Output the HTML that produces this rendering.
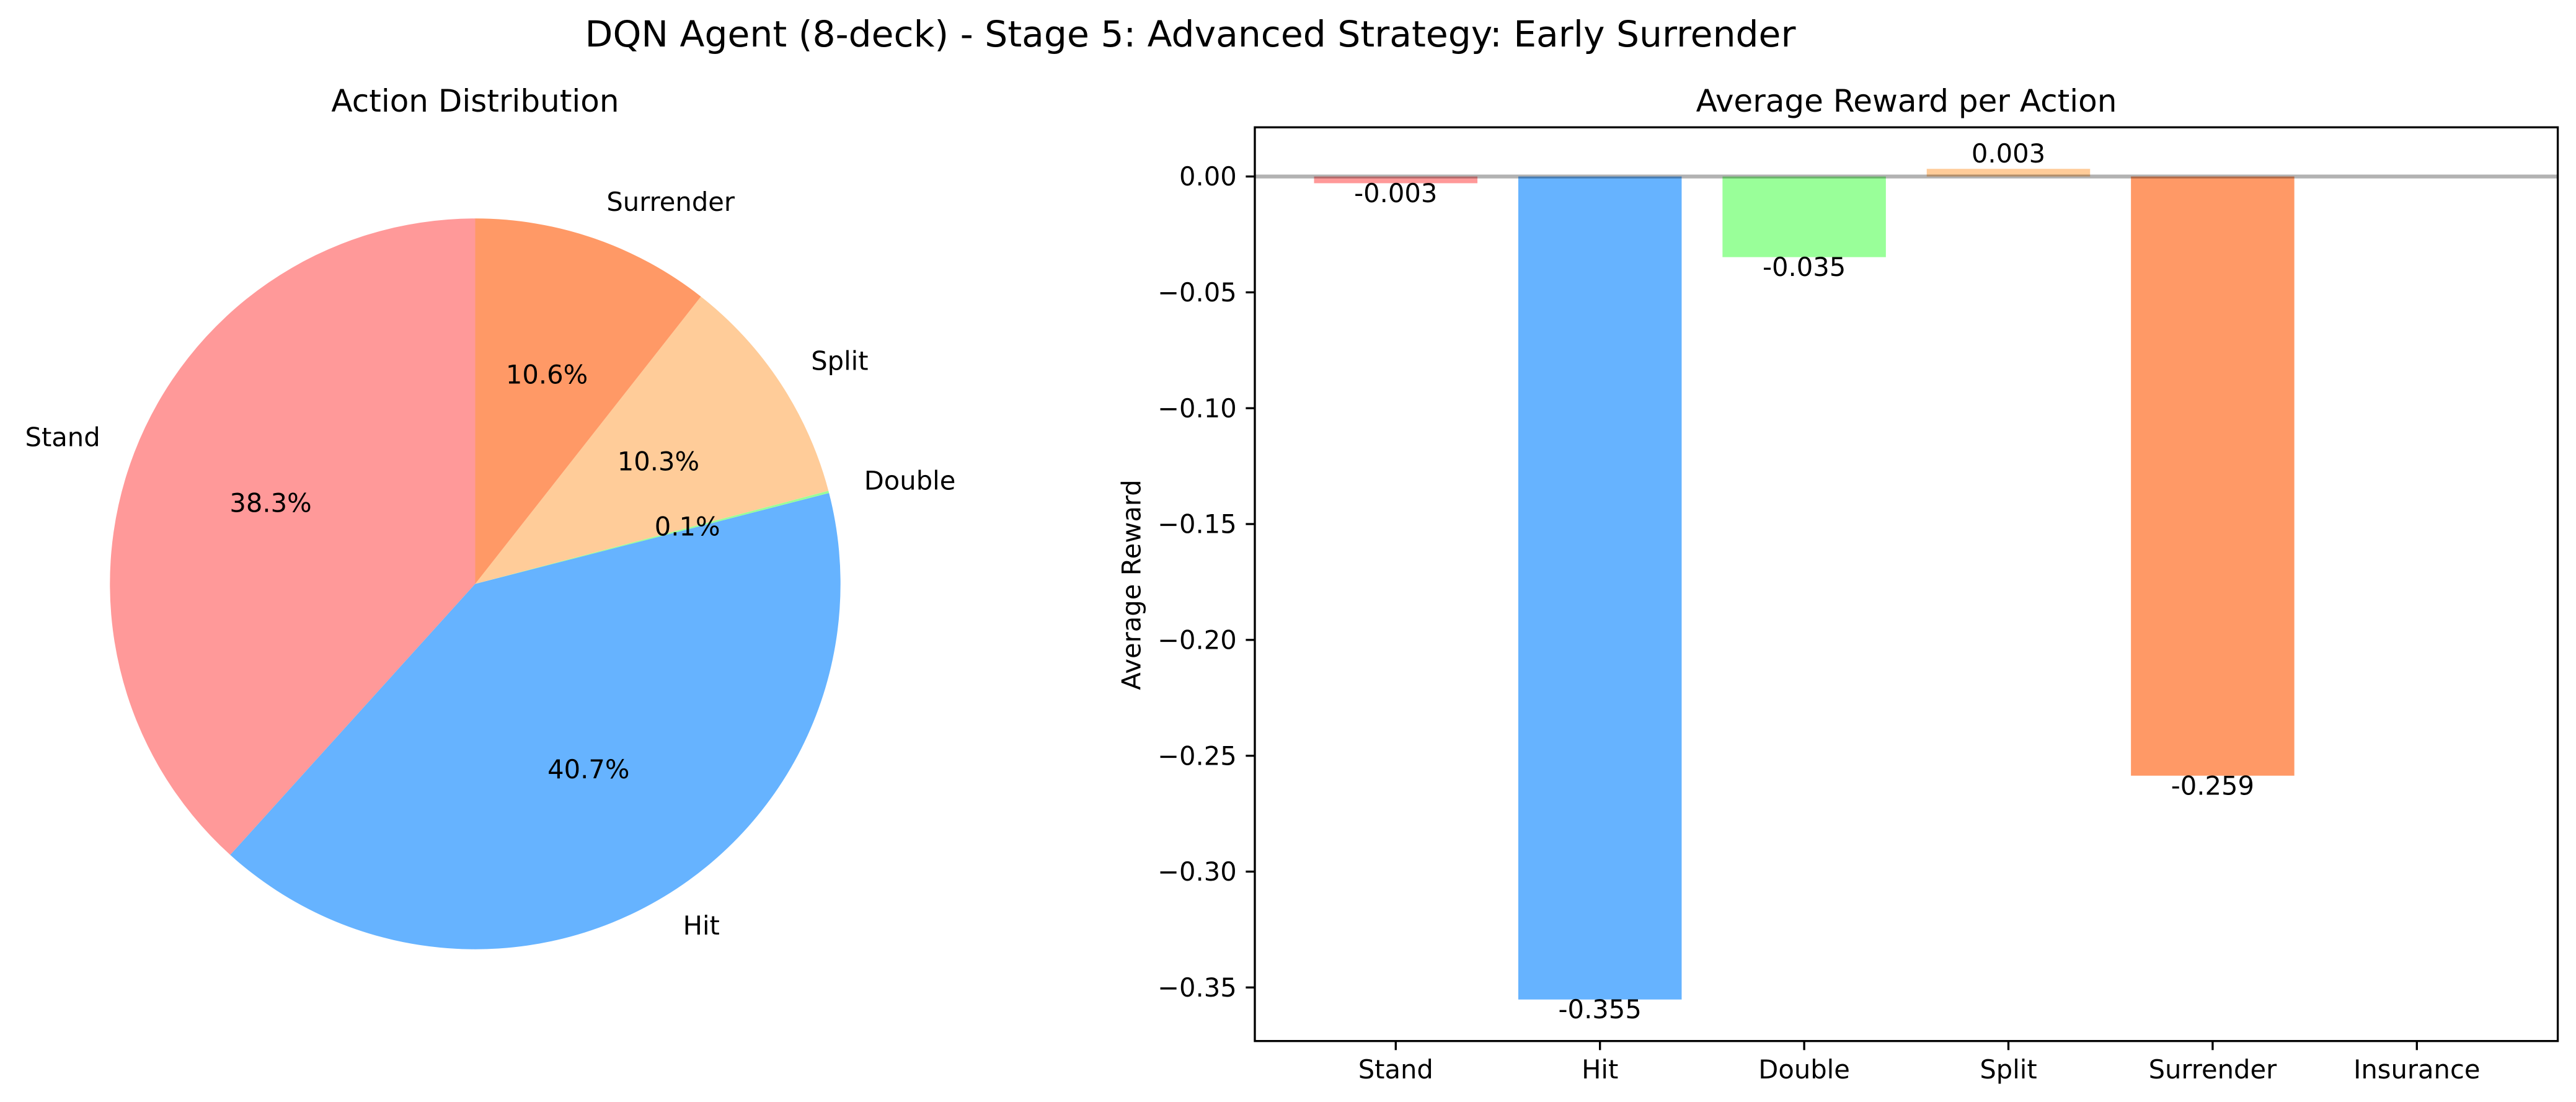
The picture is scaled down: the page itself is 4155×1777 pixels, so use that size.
<!DOCTYPE html>
<html lang="en">
<head>
<meta charset="utf-8">
<title>DQN Agent (8-deck) - Stage 5: Advanced Strategy: Early Surrender</title>
<style>
  html, body { margin: 0; padding: 0; background: #ffffff; }
  svg { display: block; }
  text { font-family: "DejaVu Sans", "Liberation Sans", sans-serif; fill: #000000; }
</style>
</head>
<body>
<svg id="figure" xmlns="http://www.w3.org/2000/svg" width="4155" height="1777" viewBox="0 0 4155 1777">
  <rect x="0" y="0" width="4155" height="1777" fill="#ffffff"/>
  <text x="1920" y="75" font-size="58.33" text-anchor="middle">DQN Agent (8-deck) - Stage 5: Advanced Strategy: Early Surrender</text>
  <text x="766.5" y="180" font-size="50" text-anchor="middle">Action Distribution</text>
  <text x="3075" y="180" font-size="50" text-anchor="middle">Average Reward per Action</text>
  <g id="pie"></g>
  <g id="bars"></g>
  <line id="zero-line" stroke="#000000" stroke-opacity="0.3" stroke-width="6.25"/>
  <g id="bar-labels"></g>
  <g id="y-axis"></g>
  <g id="x-axis"></g>
  <rect x="2024" y="205.3" width="2101.6" height="1473.4" fill="none" stroke="#000000" stroke-width="3.33"/>
  <text transform="translate(1839.3 943) rotate(-90)" font-size="41.67" text-anchor="middle">Average Reward</text>
</svg>
<script>
const categories = ["Stand", "Hit", "Double", "Split", "Surrender", "Insurance"];
const barValues = [-0.0029, -0.3552, -0.0348, 0.0033, -0.2586, 0];
const pieLabels = ["Stand", "Hit", "Double", "Split", "Surrender"];
const pieShares = [38.3, 40.7, 0.1, 10.3, 10.6];
const yTicks = [0, -0.05, -0.10, -0.15, -0.20, -0.25, -0.30, -0.35];
const yTickLabels = ["0.00", "\u22120.05", "\u22120.10", "\u22120.15", "\u22120.20", "\u22120.25", "\u22120.30", "\u22120.35"];
const palette = ["#ff9999", "#66b3ff", "#99ff99", "#ffcc99", "#ff9966", "#c2c2f0"];

const NS = "http://www.w3.org/2000/svg";
const plot = { left: 2024, right: 4125.6, top: 205.3, bottom: 1678.7 };
const pieGeom = { cx: 766.5, cy: 941.5, r: 589.2 };
const barWidth = 0.8;
const textSize = 41.67;

function make(tag, parent, attrs, content) {
  const el = document.createElementNS(NS, tag);
  Object.keys(attrs).forEach(function (k) { el.setAttribute(k, attrs[k]); });
  if (content !== undefined) { el.textContent = content; }
  parent.appendChild(el);
  return el;
}
function slug(s) { return s.toLowerCase().replace(/[^a-z0-9]+/g, "-"); }

/* bar chart axis functions (matplotlib style 5% autoscale margins) */
const xLo = -barWidth / 2 - 0.05 * (categories.length - 1 + barWidth);
const xHi = categories.length - 1 + barWidth / 2 + 0.05 * (categories.length - 1 + barWidth);
const dataMax = Math.max.apply(null, barValues.concat([0]));
const dataMin = Math.min.apply(null, barValues.concat([0]));
const yHi = dataMax + 0.05 * (dataMax - dataMin);
const yLo = dataMin - 0.05 * (dataMax - dataMin);
function xScale(i) { return plot.left + (i - xLo) / (xHi - xLo) * (plot.right - plot.left); }
function yScale(v) { return plot.top + (yHi - v) / (yHi - yLo) * (plot.bottom - plot.top); }

/* bars */
const barsGroup = document.getElementById("bars");
const barLabelGroup = document.getElementById("bar-labels");
categories.forEach(function (name, i) {
  const v = barValues[i];
  const x0 = xScale(i - barWidth / 2);
  const x1 = xScale(i + barWidth / 2);
  const y0 = yScale(Math.max(v, 0));
  const y1 = yScale(Math.min(v, 0));
  const bar = make("rect", barsGroup, { x: x0, y: y0, width: x1 - x0, height: y1 - y0, fill: palette[i] });
  
  
  if (v !== 0) {
    const by = v < 0 ? y1 + 30.5 : y0 - 10.3;
    const label = make("text", barLabelGroup, { x: xScale(i), y: by, "font-size": textSize, "text-anchor": "middle" }, v.toFixed(3));
    
    
  }
});

/* zero reference line */
const zero = document.getElementById("zero-line");
zero.setAttribute("x1", plot.left);
zero.setAttribute("x2", plot.right);
zero.setAttribute("y1", yScale(0));
zero.setAttribute("y2", yScale(0));

/* y axis */
const yAxis = document.getElementById("y-axis");
yTicks.forEach(function (t, i) {
  const py = yScale(t);
  const tick = make("line", yAxis, { x1: plot.left - 14.6, x2: plot.left, y1: py, y2: py, stroke: "#000000", "stroke-width": 3.33 });
  
  
  const lab = make("text", yAxis, { x: plot.left - 29.2, y: py + 14.6, "font-size": textSize, "text-anchor": "end" }, yTickLabels[i]);
  
  
});

/* x axis */
const xAxis = document.getElementById("x-axis");
categories.forEach(function (name, i) {
  const px = xScale(i);
  const tick = make("line", xAxis, { x1: px, x2: px, y1: plot.bottom, y2: plot.bottom + 14.6, stroke: "#000000", "stroke-width": 3.33 });
  
  
  const lab = make("text", xAxis, { x: px, y: 1739, "font-size": textSize, "text-anchor": "middle" }, name);
  
  
});

/* pie */
const pieGroup = document.getElementById("pie");
const shareTotal = pieShares.reduce(function (a, b) { return a + b; }, 0);
function polar(deg, radius) {
  const a = deg * Math.PI / 180;
  return [pieGeom.cx + radius * Math.cos(a), pieGeom.cy - radius * Math.sin(a)];
}
let angle = 90;
const pieTexts = [];
pieShares.forEach(function (share, i) {
  const sweep = share / shareTotal * 360;
  const start = polar(angle, pieGeom.r);
  const end = polar(angle + sweep, pieGeom.r);
  const large = sweep > 180 ? 1 : 0;
  const d = "M" + pieGeom.cx + " " + pieGeom.cy + " L" + start[0] + " " + start[1] +
            " A" + pieGeom.r + " " + pieGeom.r + " 0 " + large + " 0 " + end[0] + " " + end[1] + " Z";
  const wedge = make("path", pieGroup, { d: d, fill: palette[i] });
  
  
  pieTexts.push({ mid: angle + sweep / 2, share: share / shareTotal * 100, name: pieLabels[i] });
  angle += sweep;
});
pieTexts.forEach(function (p) {
  const outer = polar(p.mid, pieGeom.r * 1.1);
  const inner = polar(p.mid, pieGeom.r * 0.6);
  const anchor = outer[0] > pieGeom.cx ? "start" : "end";
  const nameEl = make("text", pieGroup, { x: outer[0], y: outer[1] + 11, "font-size": textSize, "text-anchor": anchor }, p.name);
  
  
  const pctEl = make("text", pieGroup, { x: inner[0], y: inner[1] + 11, "font-size": textSize, "text-anchor": "middle" }, p.share.toFixed(1) + "%");
  
  
});
</script>
</body>
</html>
